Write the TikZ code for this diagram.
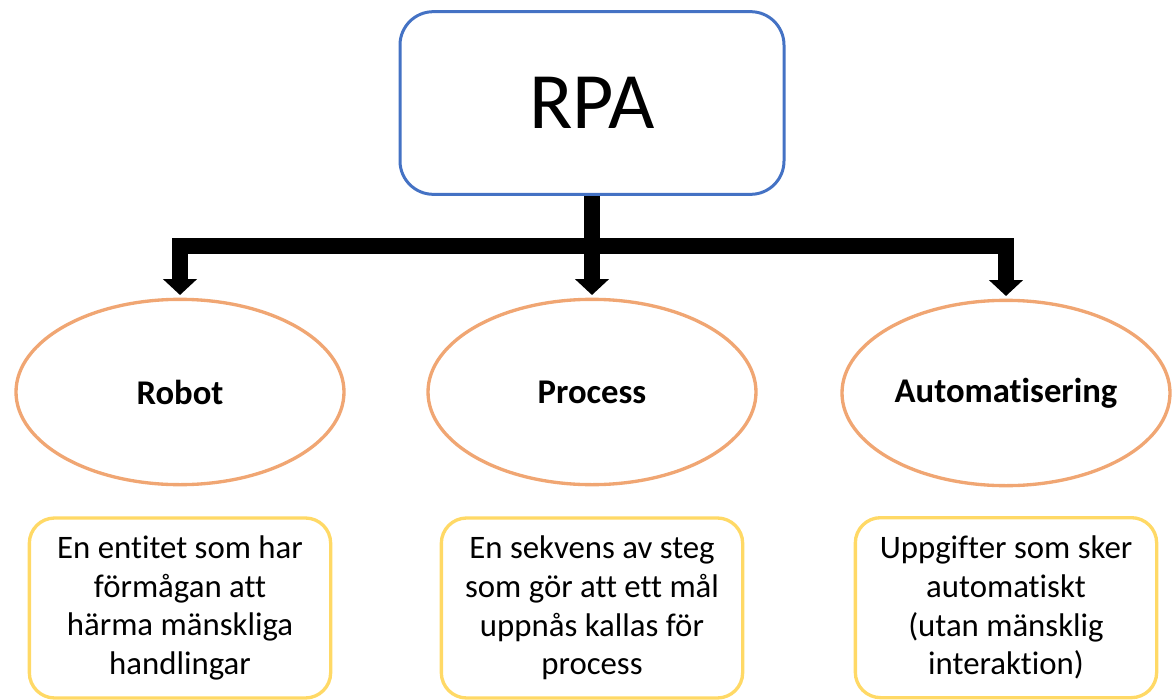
\documentclass[tikz,border=0pt]{standalone}
\usepackage{fontspec}
\setmainfont{Carlito}[Ligatures=CommonOff]
\usetikzlibrary{shapes.geometric,arrows.meta,positioning}
\definecolor{rpablue}{HTML}{4472C4}
\definecolor{ovalorange}{HTML}{F0A673}
\definecolor{noteyellow}{HTML}{FFD966}

\begin{document}
\begin{tikzpicture}[x=0.75pt, y=-0.75pt,
    topbox/.style={rectangle, rounded corners=25pt, draw=rpablue, line width=2.25pt, minimum width=288pt, minimum height=137pt, font=\fontsize{60}{72}\selectfont},
    oval/.style={ellipse, draw=ovalorange, line width=2.5pt, minimum width=246pt, minimum height=139pt, font=\bfseries\fontsize{26}{31}\selectfont},
    note/.style={rectangle, rounded corners=19pt, draw=noteyellow, line width=2.5pt, minimum width=226pt, minimum height=135pt, inner sep=0pt, align=center, font=\fontsize{24.6}{29}\selectfont},
    link/.style={line width=12pt, -{Triangle[width=25pt,length=12pt]}, shorten >=2pt}]
    \useasboundingbox (0,0) rectangle (1172,700);

    \node[topbox] (rpa) at (592,103) {RPA};
    \node[oval] (robot) at (180,392) {Robot};
    \node[oval] (process) at (592,392) {Process};
    \node[oval] (auto) at (1006,393) {Automatisering};

    \node[note, below of=robot, node distance=162pt] (robotnote) {En entitet som har\\förmågan att\\härma mänskliga\\handlingar};
    \node[note, below of=process, node distance=162pt] (processnote) {En sekvens av steg\\som gör att ett mål\\uppnås kallas för\\process};
    \node[note, below of=auto, node distance=161pt] (autonote) {Uppgifter som sker\\automatiskt\\(utan mänsklig\\interaktion)};

    \coordinate (bus) at (592,246);
    \draw[link] (rpa) -- (process);
    \draw[link] (bus) -| (robot);
    \draw[link] (bus) -| (auto);
\end{tikzpicture}
\end{document}
